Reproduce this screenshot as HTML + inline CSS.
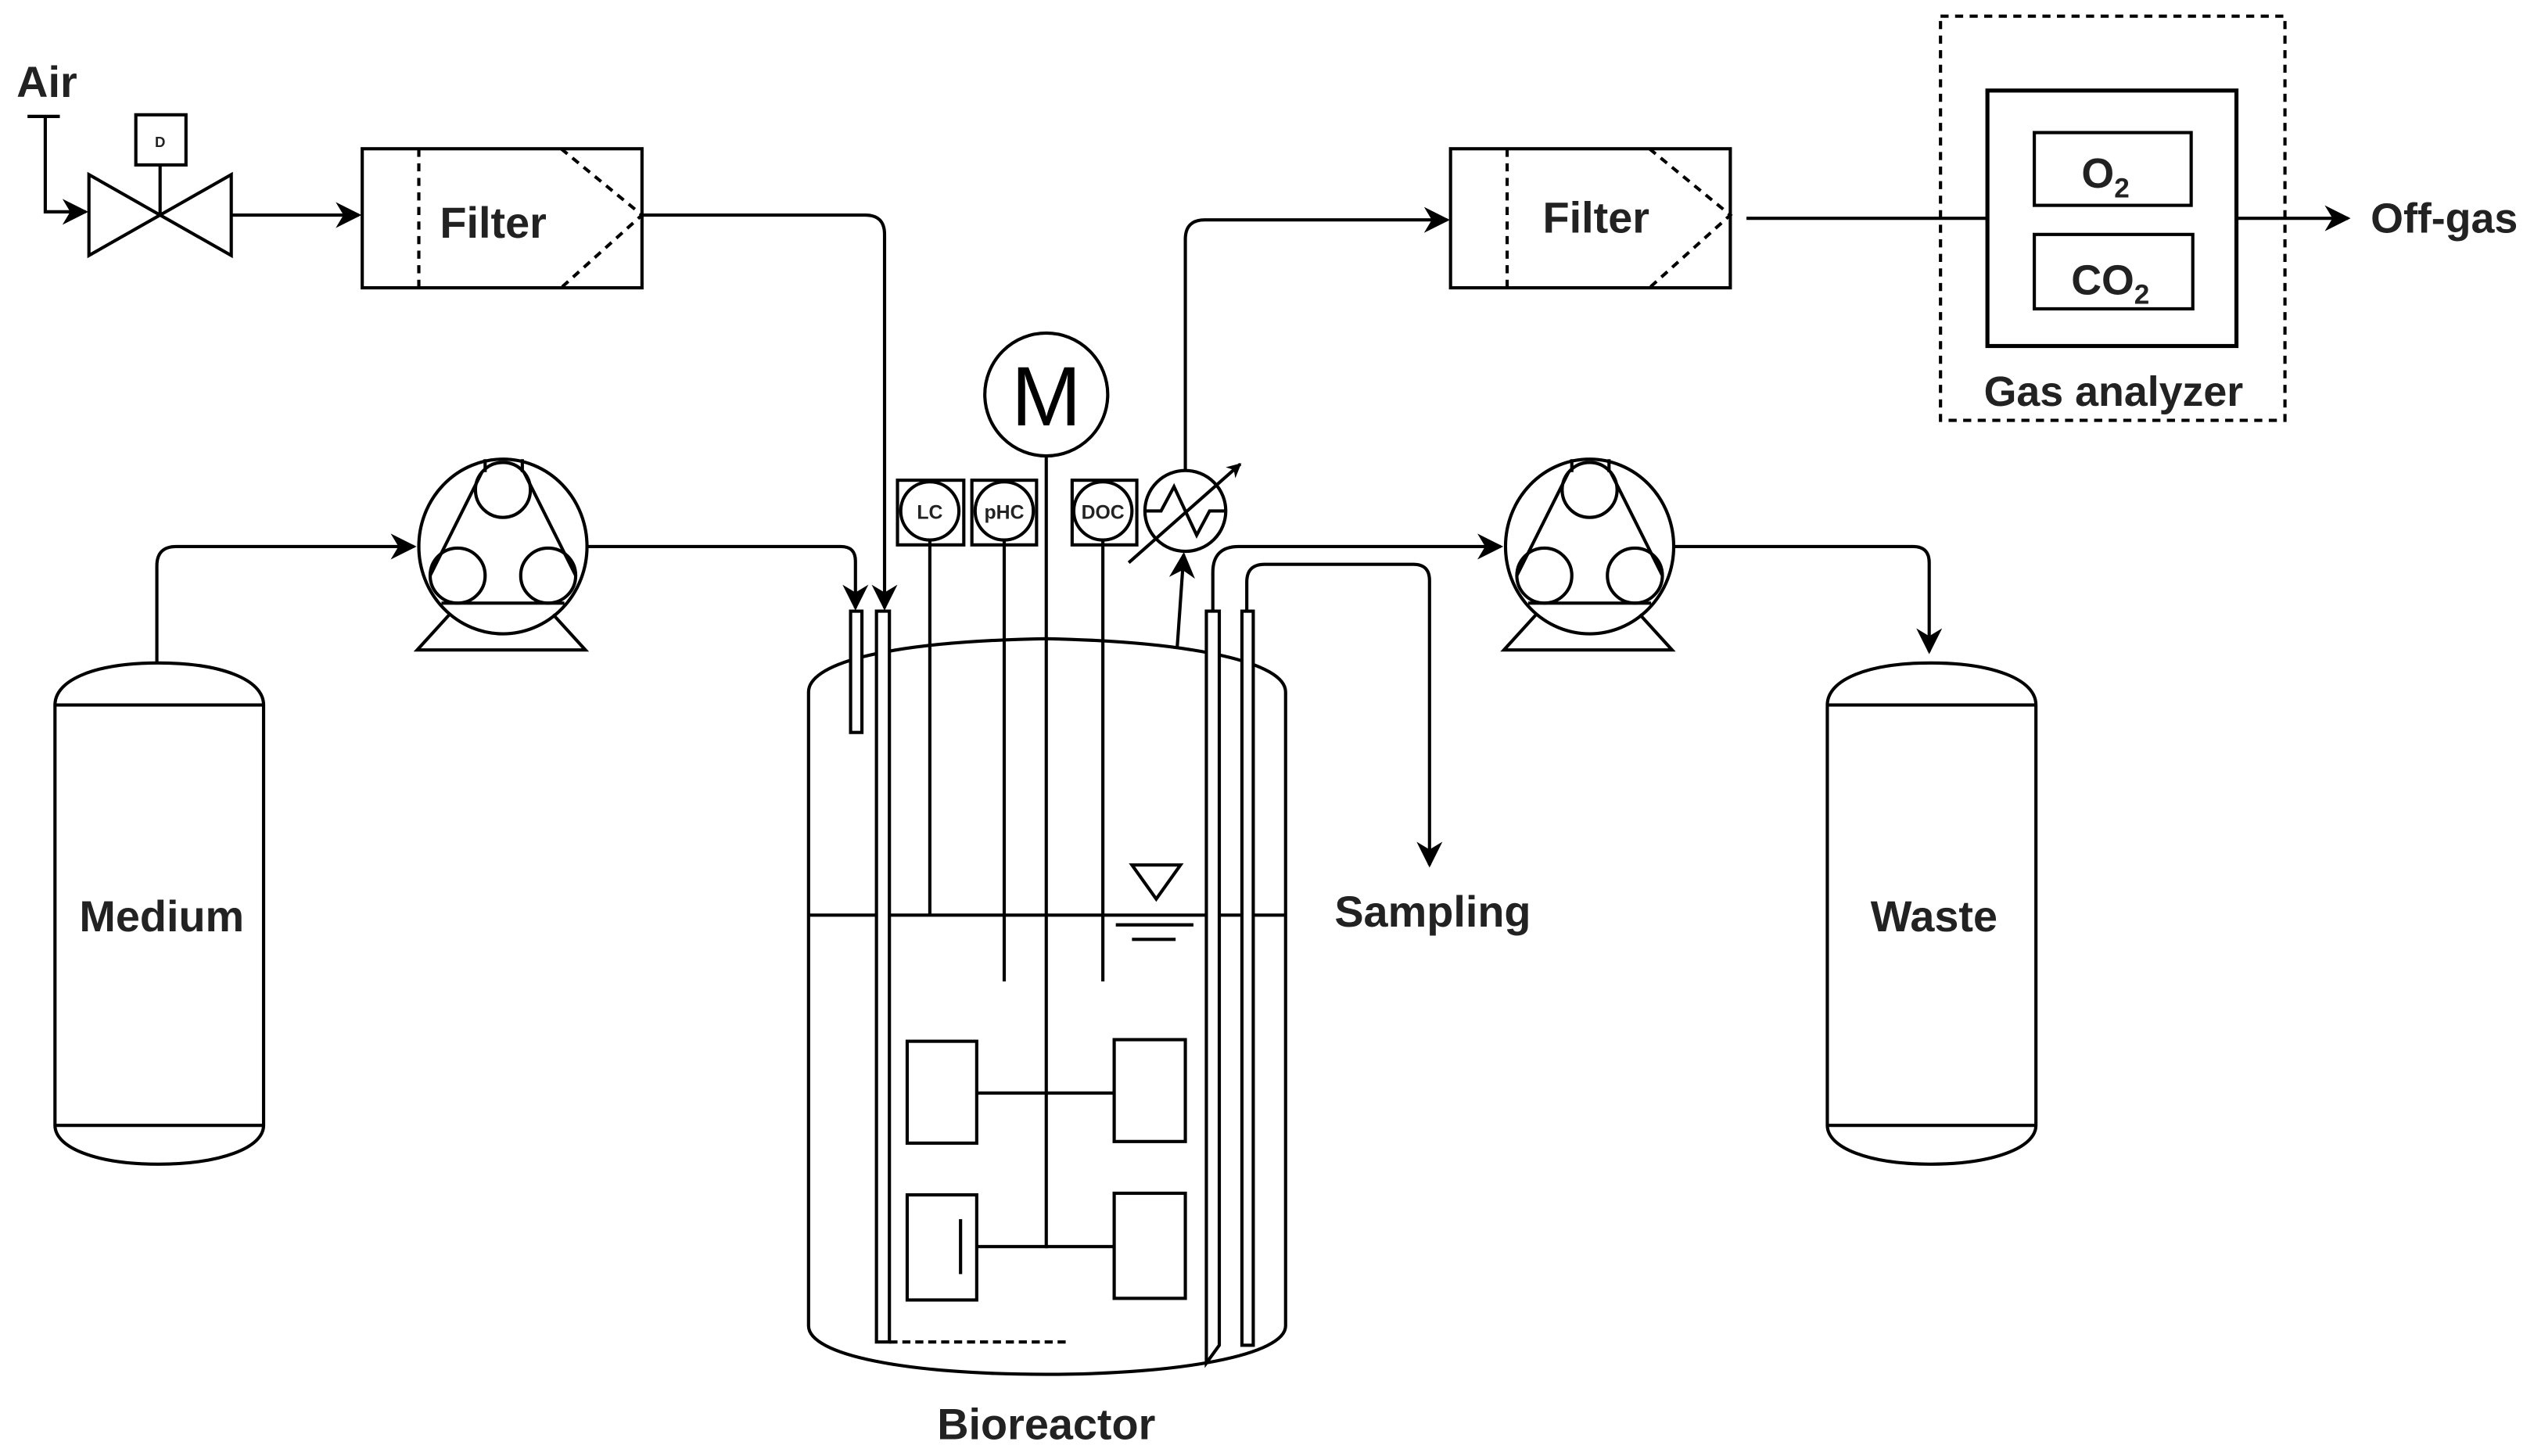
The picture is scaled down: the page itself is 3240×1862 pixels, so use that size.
<!DOCTYPE html>
<html><head><meta charset="utf-8"><style>html,body{margin:0;padding:0;background:#fff}svg{display:block}</style></head>
<body>
<svg width="3240" height="1862" viewBox="0 0 1567 900.5" preserveAspectRatio="none" xmlns="http://www.w3.org/2000/svg" font-family="Liberation Sans, sans-serif">
<defs>
<marker id="a" viewBox="0 0 10 10" refX="9" refY="5" markerWidth="9" markerHeight="9" markerUnits="userSpaceOnUse" orient="auto"><path d="M0,0 L10,5 L0,10 L3,5 Z" fill="#000"/></marker>
<marker id="b" viewBox="0 0 10 10" refX="9" refY="5" markerWidth="16" markerHeight="16" markerUnits="userSpaceOnUse" orient="auto"><path d="M0,0 L10,5 L0,10 L3,5 Z" fill="#000"/></marker>
</defs>
<g fill="none" stroke="#000" stroke-width="2">
<path d="M17,72 H37 M28,72 V131 H53" marker-end="url(#b)"/>
<path d="M55,108 L55,158 L143,108 L143,158 Z"/>
<path d="M99,133 V102"/>
<rect x="84" y="71" width="31" height="31"/>
<path d="M143,133 H222" marker-end="url(#b)"/>
<rect x="224" y="92" width="173" height="86"/>
<path d="M259,92 V178 M347,92 L397,133 L347,178" stroke-dasharray="5,4"/>
<path d="M397,133 H535 Q547,133 547,145 V376" marker-end="url(#b)"/>
<rect x="897" y="92" width="173" height="86"/>
<path d="M932,92 V178 M1020,92 L1070,133 L1020,178" stroke-dasharray="5,4"/>
<path d="M733,291 V148 Q733,136 745,136 H895" marker-end="url(#b)"/>
<path d="M1080,135 H1229 M1383,135 H1452" marker-end="url(#b)"/>
<rect x="1229" y="56" width="154" height="158" stroke-width="2.5"/>
<rect x="1258" y="82" width="97" height="45"/>
<rect x="1258" y="145" width="98" height="46"/>
<rect x="1200" y="10" width="213" height="250" stroke-dasharray="5,4"/>
<circle cx="647" cy="244" r="38"/>
<path d="M647,282 V772"/>
<rect x="555" y="297" width="41" height="40"/><circle cx="575" cy="316" r="18"/>
<rect x="601" y="297" width="40" height="40"/><circle cx="621" cy="316" r="18"/>
<rect x="663" y="297" width="40" height="40"/><circle cx="682" cy="316" r="18"/>
<path d="M575,334 V566 M621,334 V607 M682,334 V607"/>
<circle cx="733" cy="316" r="25"/>
<path d="M708,316 H718 L726,301 L740,331 L748,316 H758"/>
<path d="M698,348 L767,287" marker-end="url(#a)"/>
<path d="M728,400 L732,343" marker-end="url(#b)"/>
<path d="M500,820 V428 C500,412 540,397 647,395 C740,397 795,410 795,428 V820 C795,838 730,850 647,850 C560,850 500,838 500,820 Z"/>
<path d="M500,566 H795"/>
<path d="M700,535 H730 L715,556 Z"/>
<path d="M690,572 H738 M700,581 H727"/>
<rect x="561" y="644" width="43" height="63"/>
<rect x="689" y="643" width="44" height="63"/>
<path d="M604,676 H689 M604,771 H689 M594,754 V788"/>
<rect x="561" y="739" width="43" height="65"/>
<rect x="689" y="738" width="44" height="65"/>
<rect x="526" y="378" width="7" height="75" fill="#fff"/>
<path d="M542,378 V830 H550 V378 Z" fill="#fff"/>
<path d="M550,830 H662" stroke-dasharray="5,3"/>
<path d="M746,378 V843 L754,832 V378 Z" fill="#fff"/>
<rect x="768" y="378" width="7" height="454" fill="#fff"/>
<path d="M363,338 H520 Q529,338 529,347 V376" marker-end="url(#b)"/>
<path d="M750,378 V354 Q750,338 766,338 H928" marker-end="url(#b)"/>
<path d="M771,378 V360 Q771,349 782,349 H874 Q884,349 884,359 V535" marker-end="url(#b)"/>
<path d="M1035,338 H1183 Q1193,338 1193,348 V403" marker-end="url(#b)"/>
<path d="M97,410 V350 Q97,338 109,338 H256" marker-end="url(#b)"/>
<g id="p1">
<ellipse cx="311" cy="338" rx="52" ry="54"/>
<circle cx="311" cy="303" r="17"/><circle cx="283" cy="356" r="17"/><circle cx="339" cy="356" r="17"/>
<path d="M300,284 V292 M323,284 V292 M298,292 L266,356 M324,292 L356,356 M273,373 H349 M278,380 L258,402 H362 L342,380"/>
</g>
<use href="#p1" x="672"/>
<path d="M34,436 C34,420 60,410 98,410 C136,410 163,420 163,436 V696 C163,710 136,720 98,720 C60,720 34,710 34,696 Z M34,436 H163 M34,696 H163"/>
<path d="M1130,436 C1130,420 1156,410 1194,410 C1232,410 1259,420 1259,436 V696 C1259,710 1232,720 1194,720 C1156,720 1130,710 1130,696 Z M1130,436 H1259 M1130,696 H1259"/>
</g>
<g fill="#222" font-weight="bold" text-anchor="middle">
<text x="29" y="60" font-size="27">Air</text>
<text x="99" y="91" font-size="9">D</text>
<text x="305" y="147" font-size="27">Filter</text>
<text x="987" y="144" font-size="27">Filter</text>
<text x="1302" y="116" font-size="26">O<tspan font-size="17" dy="6">2</tspan></text>
<text x="1305" y="182" font-size="26">CO<tspan font-size="17" dy="6">2</tspan></text>
<text x="1307" y="251" font-size="26">Gas analyzer</text>
<text x="1466" y="144" font-size="26" text-anchor="start">Off-gas</text>
<text x="575" y="321" font-size="12">LC</text>
<text x="621" y="321" font-size="12">pHC</text>
<text x="682" y="321" font-size="12">DOC</text>
<text x="886" y="573" font-size="27">Sampling</text>
<text x="100" y="576" font-size="27">Medium</text>
<text x="1196" y="576" font-size="27">Waste</text>
<text x="647" y="890" font-size="27">Bioreactor</text>
<text x="647" y="263" font-size="52" font-weight="normal" fill="#000">M</text>
</g>
</svg>
</body></html>
